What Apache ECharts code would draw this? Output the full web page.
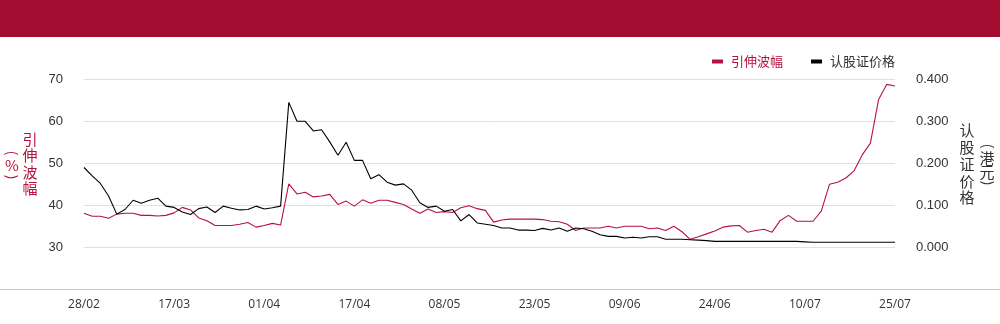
<!DOCTYPE html>
<html>
<head>
<meta charset="utf-8">
<script src="https://cdn.jsdelivr.net/npm/echarts@6/dist/echarts.min.js"></script>
<style>
html,body{margin:0;padding:0;background:#fff;}
#chart{width:1000px;height:324px;}
</style>
</head>
<body>
<div id="chart"></div>
<script>
const dates = [
'28/02',
'03/03','04/03','05/03','06/03','07/03','10/03','11/03','12/03','13/03','14/03','17/03','18/03','19/03','20/03','21/03','24/03','25/03','26/03','27/03','28/03','31/03',
'01/04','02/04','03/04','07/04','08/04','09/04','10/04','11/04','14/04','15/04','16/04','17/04','22/04','23/04','24/04','25/04','28/04','29/04','30/04',
'02/05','06/05','07/05','08/05','09/05','12/05','13/05','14/05','15/05','16/05','19/05','20/05','21/05','22/05','23/05','26/05','27/05','28/05','29/05','30/05',
'02/06','03/06','04/06','05/06','06/06','09/06','10/06','11/06','12/06','13/06','16/06','17/06','18/06','19/06','20/06','23/06','24/06','25/06','26/06','27/06','30/06',
'02/07','03/07','04/07','07/07','08/07','09/07','10/07','11/07','14/07','15/07','16/07','17/07','18/07','21/07','22/07','23/07','24/07','25/07'
];
const impliedVol = [
38.1,37.4,37.4,36.9,37.9,38.1,38.1,37.6,37.6,37.45,37.6,38.2,39.5,38.9,37.0,36.3,35.2,35.2,35.2,35.5,35.9,34.8,35.2,35.7,35.3,
45.1,42.7,43.1,42.0,42.2,42.6,40.2,41.0,39.8,41.3,40.5,41.2,41.2,40.7,40.2,39.1,38.1,39.1,38.3,38.5,38.3,39.4,39.9,39.2,38.8,
36.0,36.5,36.7,36.7,36.7,36.7,36.6,36.2,36.1,35.5,34.0,34.6,34.6,34.6,35.0,34.6,35.0,35.0,35.0,34.4,34.6,34.0,35.0,33.7,31.9,
32.5,33.2,33.9,34.8,35.1,35.2,33.6,34.0,34.3,33.6,36.4,37.6,36.2,36.2,36.2,38.6,45.0,45.5,46.5,48.2,52.0,54.8,65.2,68.8,68.4
];
const warrantPrice = [
0.190,0.170,0.152,0.122,0.079,0.090,0.112,0.105,0.112,0.117,0.098,0.095,0.084,0.078,0.092,0.096,0.083,0.098,0.093,0.089,0.090,0.098,0.091,0.094,0.098,
0.345,0.300,0.300,0.277,0.280,0.251,0.219,0.250,0.207,0.207,0.163,0.173,0.155,0.148,0.151,0.136,0.106,0.095,0.098,0.086,0.090,0.063,0.078,0.058,0.055,
0.052,0.046,0.046,0.041,0.041,0.040,0.045,0.041,0.046,0.038,0.046,0.044,0.038,0.030,0.026,0.026,0.022,0.024,0.022,0.025,0.025,0.019,0.019,0.019,0.018,
0.017,0.016,0.014,0.014,0.014,0.014,0.014,0.014,0.014,0.014,0.014,0.014,0.014,0.013,0.012,0.012,0.012,0.012,0.012,0.012,0.012,0.012,0.012,0.012,0.012
];
const leftTicks = [30, 70, 10];
const rightTicks = [0, 0.4, 0.1];
const seriesNames = ['引伸波幅', '认股证价格'];

const RED = '#b5133e';
const chart = echarts.init(document.getElementById('chart'), null, {renderer: 'canvas'});
const cjk = '"Noto Sans CJK SC", "Noto Sans", sans-serif';
const num = '"Liberation Sans", Arial, sans-serif';

function vtext(x, y, t, color, size, rot) {
  return {type: 'text', x: x, y: y, rotation: rot || 0,
    style: {text: t, fill: color, font: size + 'px ' + cjk, align: 'center', verticalAlign: 'middle'}, silent: true};
}

chart.setOption({
  animation: false,
  backgroundColor: '#fff',
  grid: {left: 84, right: 105, top: 79.3, bottom: 76.7, containLabel: false},
  legend: {
    right: 100, top: 50,
    icon: 'rect', itemWidth: 11, itemHeight: 4, itemGap: 28,
    textStyle: {fontFamily: cjk, fontSize: 13, padding: [0, 0, 0, 3]},
    data: [
      {name: seriesNames[0], textStyle: {color: RED}},
      {name: seriesNames[1], textStyle: {color: '#333'}}
    ]
  },
  xAxis: {
    type: 'category', data: dates, boundaryGap: false,
    axisLine: {show: false}, axisTick: {show: false},
    axisLabel: {interval: 10, margin: 51, color: '#333', fontSize: 12, fontFamily: '"Open Sans", sans-serif'},
    splitLine: {show: false}
  },
  yAxis: [
    {
      type: 'value', min: leftTicks[0], max: leftTicks[1], interval: leftTicks[2],
      axisLine: {show: false}, axisTick: {show: false},
      axisLabel: {margin: 21, color: '#333', fontSize: 13, fontFamily: num},
      splitLine: {lineStyle: {color: '#e0e0e0', width: 1}}
    },
    {
      type: 'value', min: rightTicks[0], max: rightTicks[1], interval: rightTicks[2],
      axisLine: {show: false}, axisTick: {show: false},
      axisLabel: {margin: 21, color: '#333', fontSize: 13, fontFamily: num, formatter: v => v.toFixed(3)},
      splitLine: {show: false}
    }
  ],
  series: [
    {name: seriesNames[0], type: 'line', data: impliedVol, yAxisIndex: 0, symbol: 'none', color: RED, lineStyle: {width: 1.1, color: RED}},
    {name: seriesNames[1], type: 'line', data: warrantPrice, yAxisIndex: 1, symbol: 'none', color: '#000', lineStyle: {width: 1.1, color: '#000'}}
  ],
  graphic: [
    {type: 'rect', left: 0, top: 0, shape: {x: 0, y: 0, width: 1000, height: 37}, style: {fill: '#a30d31'}, silent: true},
    {type: 'line', shape: {x1: 0, y1: 289.5, x2: 1000, y2: 289.5}, style: {stroke: '#cccccc', lineWidth: 1}, silent: true},
    {type: 'text', x: 30, y: 164, style: {text: '引\n伸\n波\n幅', fill: RED, font: '15px ' + cjk, lineHeight: 16.5, align: 'center', verticalAlign: 'middle'}},
    vtext(12, 153, '(', RED, 14, -Math.PI / 2),
    vtext(12, 165, '%', RED, 15, 0),
    vtext(12, 177, ')', RED, 14, -Math.PI / 2),
    {type: 'text', x: 967, y: 164, style: {text: '认\n股\n证\n价\n格', fill: '#333', font: '15px ' + cjk, lineHeight: 16.8, align: 'center', verticalAlign: 'middle'}},
    vtext(988, 146, '(', '#333', 14, -Math.PI / 2),
    vtext(987, 158, '港', '#333', 15, 0),
    vtext(987, 172, '元', '#333', 15, 0),
    vtext(988, 183, ')', '#333', 14, -Math.PI / 2)
  ]
});
</script>
</body>
</html>
